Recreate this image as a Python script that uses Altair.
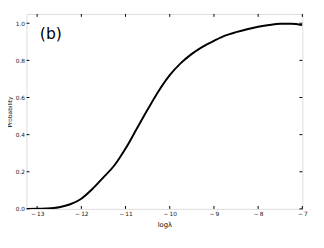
import altair as alt
import pandas as pd

# curve
log_lambda = [-13.24, -13.0, -12.8, -12.5, -12.25, -12.0, -11.75, -11.5, -11.25, -11.0,
              -10.75, -10.5, -10.25, -10.0, -9.75, -9.5, -9.25, -9.0, -8.75, -8.5,
              -8.25, -8.0, -7.75, -7.5, -7.25, -7.0]
probability = [0.0, 0.0005, 0.002, 0.009, 0.025, 0.055, 0.107, 0.17, 0.235, 0.325,
               0.43, 0.535, 0.635, 0.72, 0.785, 0.835, 0.874, 0.905, 0.933, 0.952,
               0.968, 0.981, 0.991, 0.997, 0.997, 0.99]

x_ticks = [-13, -12, -11, -10, -9, -8, -7]
y_ticks = [0.0, 0.2, 0.4, 0.6, 0.8, 1.0]
panel_label = "(b)"

W, H = 283, 200
XDOM = [-13.24, -7.0]
YDOM = [0.0, 1.05]

curve = pd.DataFrame({"x": log_lambda, "y": probability})
xt = pd.DataFrame({"x": x_ticks})
yt = pd.DataFrame({"y": y_ticks})

xs = alt.Scale(domain=XDOM, nice=False, zero=False)
ys = alt.Scale(domain=YDOM, nice=False, zero=False)

FONT = "DejaVu Sans"

ax_x = alt.Axis(
    title="logλ", values=x_ticks, ticks=False, domain=False, grid=False,
    labelExpr="'\u2212\u2009' + abs(datum.value)", labelOverlap=False, labelFlush=False,
    labelFontSize=6, labelFont=FONT, labelColor="#222", labelPadding=2,
    titleFontSize=7, titleFont=FONT, titleFontWeight="normal", titleColor="black",
    titleY=16, titleBaseline="middle")
ax_y = alt.Axis(
    title="Probability", values=y_ticks, format=".1f", ticks=False, domain=False, grid=False,
    labelOverlap=False, labelFlush=False,
    labelFontSize=6, labelFont=FONT, labelColor="#222", labelPadding=2,
    titleFontSize=6, titleFont=FONT, titleFontWeight="normal", titleColor="black",
    titleX=-17, titleBaseline="middle")

X = alt.X("x:Q", scale=xs, axis=ax_x)
Y = alt.Y("y:Q", scale=ys, axis=ax_y)

line = alt.Chart(curve).mark_line(color="black", strokeWidth=2, interpolate="monotone", clip=True).encode(
    x=X, y=Y)

bottom_ticks = alt.Chart(xt).mark_rule(color="black", strokeWidth=1).encode(
    x=X, y=alt.value(H), y2=alt.value(H - 3))
top_ticks = alt.Chart(xt).mark_rule(color="black", strokeWidth=1).encode(
    x=X, y=alt.value(0), y2=alt.value(3))
left_ticks = alt.Chart(yt).mark_rule(color="black", strokeWidth=1).encode(
    y=Y, x=alt.value(0), x2=alt.value(3))
right_ticks = alt.Chart(yt).mark_rule(color="black", strokeWidth=1).encode(
    y=Y, x=alt.value(W), x2=alt.value(W - 3))

label = alt.Chart(pd.DataFrame({"x": [-12.69], "y": [0.944], "t": [panel_label]})).mark_text(
    fontSize=16, font=FONT, color="black", align="center", baseline="middle").encode(
    x=X, y=Y, text="t:N")

chart = alt.layer(line, bottom_ticks, top_ticks, left_ticks, right_ticks, label).properties(
    width=W, height=H,
    autosize=alt.AutoSizeParams(type="none"),
    padding={"left": 19, "top": 3, "right": 14, "bottom": 37},
).configure_view(stroke="black", strokeWidth=1).configure(background="white")

chart.save("out.html", embed_options={"renderer": "svg", "actions": False})
